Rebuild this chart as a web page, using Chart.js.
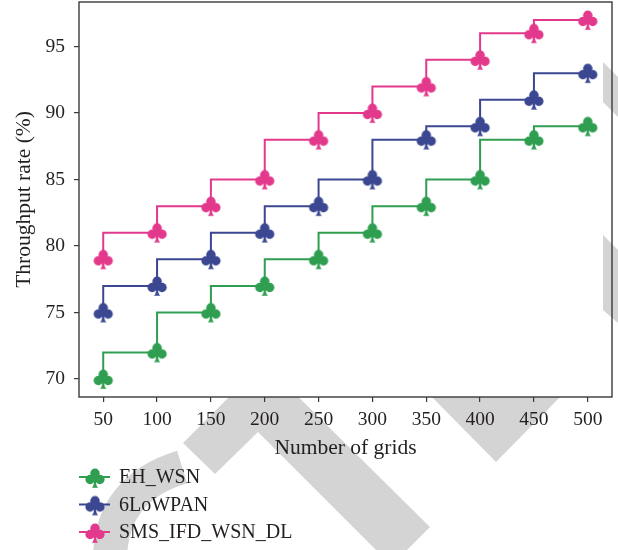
<!DOCTYPE html>
<html>
<head>
<meta charset="utf-8">
<script src="https://cdn.jsdelivr.net/npm/chart.js@4/dist/chart.umd.min.js"></script>
<style>
  html, body { margin: 0; padding: 0; background: #fff; }
  #wrap { width: 618px; height: 550px; position: relative; }
</style>
</head>
<body>
<div id="wrap"><canvas id="chart" width="618" height="550"></canvas></div>
<script>
// Number of grids on the x axis
const grids = [50, 100, 150, 200, 250, 300, 350, 400, 450, 500];

// Throughput rate (%) per method
const ehWsn  = [70, 72, 75, 77, 79, 81, 83, 85, 88, 89];
const loWpan = [75, 77, 79, 81, 83, 85, 88, 89, 91, 93];
const smsIfd = [79, 81, 83, 85, 88, 90, 92, 94, 96, 97];

const seriesNames = ['EH_WSN', '6LoWPAN', 'SMS_IFD_WSN_DL'];

// Tick labels
const xTicks = [50, 100, 150, 200, 250, 300, 350, 400, 450, 500];
const yTicks = [70, 75, 80, 85, 90, 95];

const colors = ['#2f9e50', '#3b4790', '#e3398d'];
const serif = '"Liberation Serif", "Times New Roman", serif';
const inkColor = '#231f20';
const frameColor = '#3a3a3a';

// Club-suit marker: three round lobes on a flared stem
function clubMarker(color) {
  const size = 22;
  const c = document.createElement('canvas');
  c.width = size; c.height = size;
  const ctx = c.getContext('2d');
  ctx.translate(size / 2, size / 2);
  ctx.fillStyle = color;
  const r = 4.7;
  [[0, -4.8], [-4.9, 1.5], [4.9, 1.5]].forEach(([x, y]) => {
    ctx.beginPath();
    ctx.arc(x, y, r, 0, Math.PI * 2);
    ctx.fill();
  });
  ctx.fillRect(-3, -3, 6, 6);
  ctx.beginPath();
  ctx.moveTo(-1.2, 2);
  ctx.quadraticCurveTo(-0.6, 7.5, -3.2, 9.7);
  ctx.lineTo(3.2, 9.7);
  ctx.quadraticCurveTo(0.6, 7.5, 1.2, 2);
  ctx.closePath();
  ctx.fill();
  return c;
}

const markers = colors.map(col => clubMarker(col));

function toPoints(values) {
  return grids.map((g, i) => ({ x: g, y: values[i] }));
}

const datasets = [ehWsn, loWpan, smsIfd].map((vals, i) => ({
  label: seriesNames[i],
  data: toPoints(vals),
  borderColor: colors[i],
  backgroundColor: colors[i],
  borderWidth: 2,
  stepped: 'after',
  tension: 0,
  clip: false,
  pointStyle: markers[i],
  pointRadius: 10,
  pointHoverRadius: 10
}));

// Light grey publisher watermark behind the figure
const watermark = {
  id: 'watermark',
  beforeDraw(chart) {
    const { ctx, chartArea: a, width, height } = chart;
    ctx.save();
    ctx.fillStyle = '#d4d4d4';
    ctx.strokeStyle = '#d4d4d4';
    // shapes that sit outside the plotting frame
    ctx.beginPath();
    ctx.rect(0, 0, width, height);
    ctx.rect(a.left, a.top, a.right - a.left, a.bottom - a.top);
    ctx.clip('evenodd');
    // chevron
    ctx.beginPath();
    ctx.moveTo(183, 443);
    ctx.lineTo(263.5, 362.5);
    ctx.lineTo(430, 527);
    ctx.lineTo(391.5, 565.5);
    ctx.lineTo(258, 432);
    ctx.lineTo(215, 474);
    ctx.closePath();
    ctx.fill();
    // V notch below the axis
    ctx.beginPath();
    ctx.moveTo(427, 392);
    ctx.lineTo(565, 392);
    ctx.lineTo(496, 462);
    ctx.closePath();
    ctx.fill();
    // arc near the legend
    ctx.beginPath();
    ctx.lineWidth = 34;
    ctx.lineCap = 'butt';
    ctx.moveTo(110, 560);
    ctx.quadraticCurveTo(110, 489, 182, 467);
    ctx.stroke();
    ctx.restore();

    // strips along the right edge
    ctx.save();
    ctx.fillStyle = '#d4d4d4';
    ctx.beginPath();
    ctx.moveTo(603, 235); ctx.lineTo(618, 250); ctx.lineTo(618, 323); ctx.lineTo(603, 310);
    ctx.closePath(); ctx.fill();
    ctx.beginPath();
    ctx.moveTo(603, 62); ctx.lineTo(618, 77); ctx.lineTo(618, 117); ctx.lineTo(603, 102);
    ctx.closePath(); ctx.fill();
    ctx.restore();
  }
};

// Frame around the plotting area and the stacked legend underneath
const frameAndLegend = {
  id: 'frameAndLegend',
  afterDraw(chart) {
    const { ctx, chartArea: a } = chart;
    ctx.save();
    ctx.strokeStyle = frameColor;
    ctx.lineWidth = 1.4;
    ctx.strokeRect(a.left, a.top, a.right - a.left, a.bottom - a.top);
    ctx.restore();

    const rowsY = [477, 504.5, 532];
    ctx.save();
    ctx.font = '20px ' + serif;
    ctx.textBaseline = 'middle';
    ctx.textAlign = 'left';
    chart.data.datasets.forEach((ds, i) => {
      const y = rowsY[i];
      ctx.strokeStyle = ds.borderColor;
      ctx.lineWidth = 2;
      ctx.beginPath();
      ctx.moveTo(79, y);
      ctx.lineTo(110, y);
      ctx.stroke();
      const mk = ds.pointStyle;
      ctx.drawImage(mk, 95 - mk.width / 2, y + 1 - mk.height / 2);
      ctx.fillStyle = inkColor;
      ctx.fillText(ds.label, 119, y + 1);
    });
    ctx.restore();
  }
};

new Chart(document.getElementById('chart'), {
  type: 'line',
  data: { datasets },
  options: {
    responsive: false,
    animation: false,
    events: [],
    layout: { autoPadding: false, padding: { top: 2, right: 6, bottom: 88.4, left: 0 } },
    plugins: {
      legend: { display: false },
      tooltip: { enabled: false }
    },
    scales: {
      x: {
        type: 'linear',
        position: 'bottom',
        min: 27.5,
        max: 522.5,
        afterBuildTicks: s => { s.ticks = xTicks.map(v => ({ value: v })); },
        afterFit: s => { s.height = 64.6; s.paddingLeft = 0; s.paddingRight = 0; },
        border: { display: false },
        grid: { display: true, drawOnChartArea: false, drawTicks: true, tickLength: 5, color: frameColor, lineWidth: 1.2 },
        ticks: {
          autoSkip: false, maxRotation: 0, padding: 6,
          color: inkColor, font: { family: serif, size: 19.5 }
        },
        title: {
          display: true, text: 'Number of grids', color: inkColor,
          font: { family: serif, size: 21.5 }, padding: { top: 0, bottom: 0 }
        }
      },
      y: {
        type: 'linear',
        position: 'left',
        min: 68.65,
        max: 98.35,
        afterBuildTicks: s => { s.ticks = yTicks.map(v => ({ value: v })); },
        afterFit: s => { s.width = 79; s.paddingTop = 0; s.paddingBottom = 0; },
        border: { display: false },
        grid: { display: true, drawOnChartArea: false, drawTicks: true, tickLength: 5, color: frameColor, lineWidth: 1.2 },
        ticks: {
          padding: 9, color: inkColor, font: { family: serif, size: 19.5 }
        },
        title: {
          display: true, text: 'Throughput rate (%)', color: inkColor,
          font: { family: serif, size: 21.5 }, padding: { top: 11, bottom: 0 }
        }
      }
    }
  },
  plugins: [watermark, frameAndLegend]
});
</script>
</body>
</html>
